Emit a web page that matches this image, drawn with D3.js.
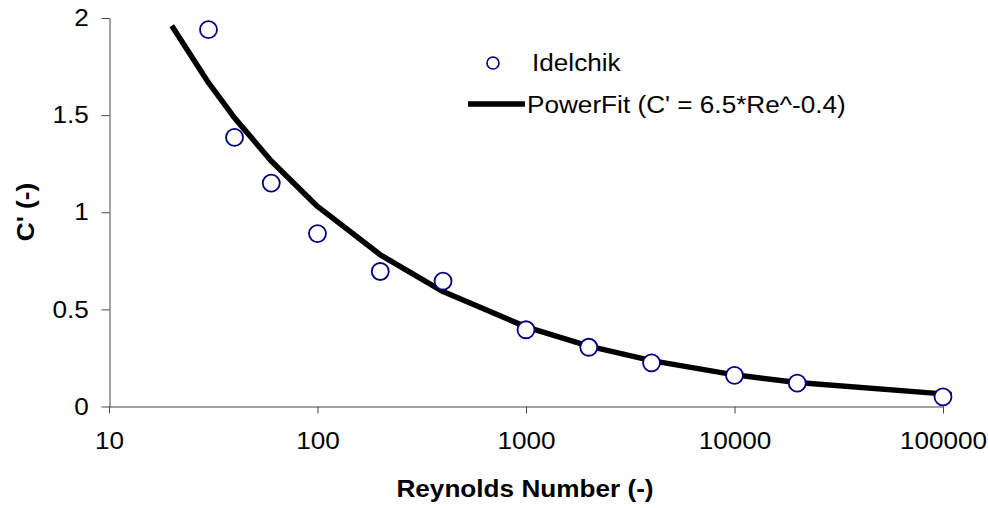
<!DOCTYPE html>
<html>
<head>
<meta charset="utf-8">
<script src="https://cdn.jsdelivr.net/npm/d3@7"></script>
<style>
    body { margin: 0; background: #fff; }
    svg text { font-family: Arial, "Liberation Sans", sans-serif; }
</style>
</head>
<body>
<svg id="chart" width="988" height="508"></svg>
<script>
// Idelchik data
var idelchikRe = [30, 40, 60, 100, 200, 400, 1000, 2000, 4000, 10000, 20000, 100000];
var idelchikC = [1.94, 1.385, 1.15, 0.89, 0.695, 0.645, 0.395, 0.305, 0.225, 0.16, 0.12, 0.05];

// Power fit curve points
var fitRe = [20, 30, 40, 60, 100, 200, 400, 1000, 2000, 4000, 10000, 20000, 100000, 110000];
var fitC = [1.96, 1.667, 1.486, 1.264, 1.03, 0.781, 0.592, 0.41, 0.311, 0.236, 0.163, 0.124, 0.065, 0.062];

var xTicks = [10, 100, 1000, 10000, 100000];
var yTicks = [0, 0.5, 1, 1.5, 2];

// text in the original is a little wider than Arial
var stretch = "scale(1.09,1)";

var svg = d3.select("#chart");

var x = d3.scaleLog().domain([10, 100000]).range([109, 943]);
var y = d3.scaleLinear().domain([0, 2]).range([406.5, 18]);

// Axes
svg.append("g")
    .attr("transform", "translate(0,406.5)")
    .call(d3.axisBottom(x)
        .tickValues(xTicks)
        .tickFormat(d3.format("d"))
        .tickSize(7)
        .tickSizeOuter(0)
        .tickPadding(18));

svg.append("g")
    .attr("transform", "translate(109.5,0)")
    .call(d3.axisLeft(y)
        .tickValues(yTicks)
        .tickFormat(function (d) { return d; })
        .tickSize(8)
        .tickSizeOuter(0)
        .tickPadding(11));

svg.selectAll(".domain, .tick line")
    .attr("stroke", "#444")
    .attr("stroke-width", 1);
svg.selectAll(".tick text")
    .attr("font-size", "24px")
    .attr("fill", "#000")
    .attr("transform", stretch);

// Fit line
var line = d3.line()
    .x(function (d, i) { return x(fitRe[i]); })
    .y(function (d) { return y(d); });

svg.append("path")
    .datum(fitC)
    .attr("d", line)
    .attr("fill", "none")
    .attr("stroke", "#000")
    .attr("stroke-width", 5.5)
    .attr("stroke-linejoin", "round");

// Idelchik markers
svg.selectAll(".pt")
    .data(idelchikC)
    .enter()
    .append("circle")
    .attr("class", "pt")
    .attr("cx", function (d, i) { return x(idelchikRe[i]); })
    .attr("cy", function (d) { return y(d); })
    .attr("r", 8.5)
    .attr("fill", "#fff")
    .attr("stroke", "#000080")
    .attr("stroke-width", 1.8);

// Axis titles
svg.append("text")
    .attr("transform", "translate(525,497) " + stretch)
    .attr("text-anchor", "middle")
    .attr("font-size", "24px")
    .attr("font-weight", "bold")
    .text("Reynolds Number (-)");

svg.append("text")
    .attr("transform", "translate(34,212) rotate(-90) " + stretch)
    .attr("text-anchor", "middle")
    .attr("font-size", "24px")
    .attr("font-weight", "bold")
    .text("C' (-)");

// Legend
var legend = svg.append("g");
legend.append("circle")
    .attr("cx", 493)
    .attr("cy", 63)
    .attr("r", 6)
    .attr("fill", "#fff")
    .attr("stroke", "#000080")
    .attr("stroke-width", 1.6);
legend.append("text")
    .attr("transform", "translate(532,71) " + stretch)
    .attr("font-size", "24px")
    .text("Idelchik");
legend.append("line")
    .attr("x1", 468).attr("x2", 525)
    .attr("y1", 104).attr("y2", 104)
    .attr("stroke", "#000")
    .attr("stroke-width", 5.5);
legend.append("text")
    .attr("transform", "translate(527,113) " + stretch)
    .attr("font-size", "24px")
    .text("PowerFit (C' = 6.5*Re^-0.4)");
</script>
</body>
</html>
